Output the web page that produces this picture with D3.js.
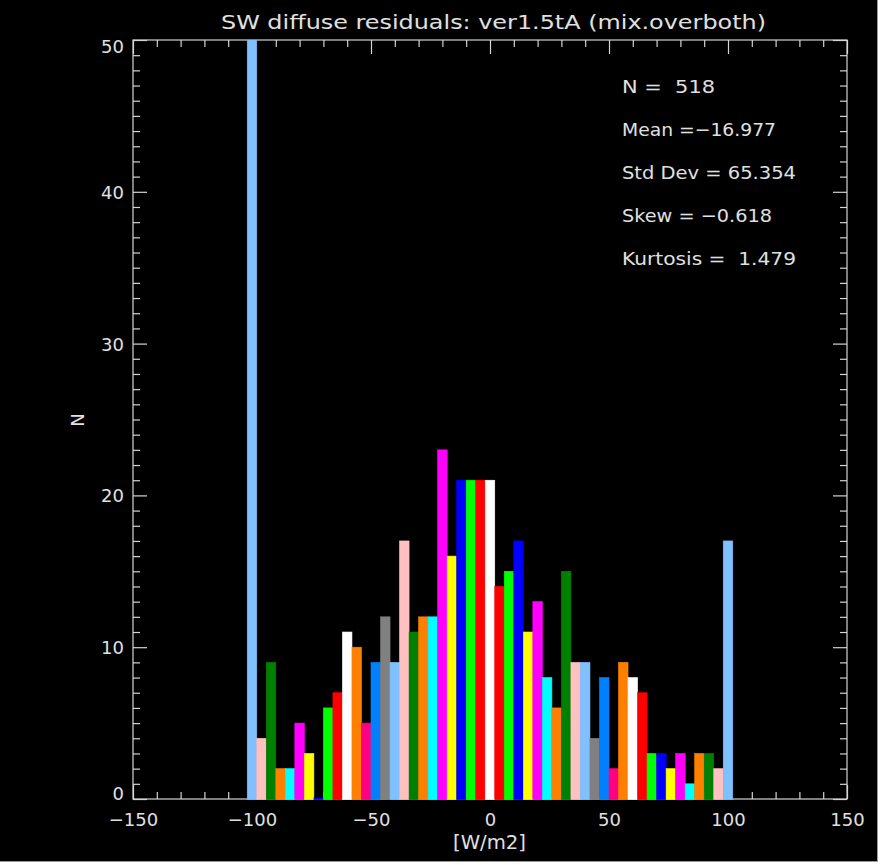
<!DOCTYPE html>
<html>
<head>
<meta charset="utf-8">
<script src="https://cdn.jsdelivr.net/npm/d3@7/dist/d3.min.js"></script>
<style>
  html, body { margin: 0; padding: 0; background: #ffffff; }
  svg { display: block; }
  text { font-family: "DejaVu Sans", "Liberation Sans", sans-serif; fill: #e0e0e0; white-space: pre; }
</style>
</head>
<body>
<svg id="chart" width="881" height="865"></svg>
<script>
// Histogram bins: centre of each 4 W/m2 bin (outliers collected in the end bins)
const binCenters = [-100, -96, -92, -88, -84, -80, -76, -72, -68, -64,
                    -60, -56, -52, -48, -44, -40, -36, -32, -28, -24,
                    -20, -16, -12, -8, -4, 0, 4, 8, 12, 16,
                    20, 24, 28, 32, 36, 40, 44, 48, 52, 56,
                    60, 64, 68, 72, 76, 80, 84, 88, 92, 96, 100];
const counts = [57, 4, 9, 2, 2, 5, 3, 0, 6, 7,
                11, 10, 5, 9, 12, 9, 17, 11, 12, 12,
                23, 16, 21, 21, 21, 21, 14, 15, 17, 11,
                13, 8, 6, 15, 9, 9, 4, 8, 2, 9,
                8, 7, 3, 3, 2, 3, 1, 3, 3, 2, 17];
const binWidth = 4;

const xTicks = [-150, -100, -50, 0, 50, 100, 150];
const yTicks = [0, 10, 20, 30, 40, 50];
const statLines = ["N =  518", "Mean =\u221216.977", "Std Dev = 65.354", "Skew = \u22120.618", "Kurtosis =  1.479"];
const statWidths = [93, 154, 174, 150, 174];

const titleText = "SW diffuse residuals: ver1.5tA (mix.overboth)";
const xLabel = "[W/m2]";
const yLabel = "N";

// Colour table cycled from both ends of the histogram toward the middle
const palette = ["#80c0ff", "#ffc0c0", "#008000", "#ff8000", "#00ffff",
                 "#ff00ff", "#ffff00", "#0000ff", "#00ff00", "#ff0000",
                 "#ffffff", "#ff8000", "#ff0080", "#0080ff", "#808080"];

const svg = d3.select("#chart");
const axisColor = "#d4d4d4";

// window area
svg.append("rect").attr("x", 0).attr("y", 0).attr("width", 877).attr("height", 861).attr("fill", "#000");
svg.append("line").attr("x1", 877.5).attr("x2", 877.5).attr("y1", 0).attr("y2", 862).attr("stroke", "#9a9a9a");
svg.append("line").attr("x1", 0).attr("x2", 878).attr("y1", 861.5).attr("y2", 861.5).attr("stroke", "#9a9a9a");

const plot = { left: 133, right: 847, top: 40, bottom: 799 };
const x = d3.scaleLinear().domain([-150, 150]).range([plot.left, plot.right]);
const y = d3.scaleLinear().domain([0, 50]).range([plot.bottom, plot.top]);

const minorX = d3.range(-150, 151, 10).filter(v => v % 50 !== 0);
const minorY = d3.range(0, 51, 1).filter(v => v % 10 !== 0);

function styleAxis(g) {
  g.select(".domain").remove();
  g.selectAll(".tick line").attr("stroke", axisColor).attr("stroke-width", 1.2);
  g.selectAll("text").attr("fill", "#e0e0e0").style("font-size", "18px")
    .style("font-family", "'DejaVu Sans', 'Liberation Sans', sans-serif");
}

const axes = svg.append("g");
// bottom
axes.append("g").attr("transform", `translate(0,${plot.bottom})`)
  .call(d3.axisBottom(x).tickValues(xTicks).tickSize(-14).tickSizeOuter(0).tickPadding(14)
    .tickFormat(d => d < 0 ? "\u2212" + Math.abs(d) : String(d)))
  .call(styleAxis);
axes.append("g").attr("transform", `translate(0,${plot.bottom})`)
  .call(d3.axisBottom(x).tickValues(minorX).tickSize(-7).tickSizeOuter(0).tickFormat(""))
  .call(styleAxis);
// top
axes.append("g").attr("transform", `translate(0,${plot.top})`)
  .call(d3.axisTop(x).tickValues(xTicks).tickSize(-14).tickSizeOuter(0).tickFormat(""))
  .call(styleAxis);
axes.append("g").attr("transform", `translate(0,${plot.top})`)
  .call(d3.axisTop(x).tickValues(minorX).tickSize(-7).tickSizeOuter(0).tickFormat(""))
  .call(styleAxis);
// left
const leftAxis = axes.append("g").attr("transform", `translate(${plot.left},0)`)
  .call(d3.axisLeft(y).tickValues(yTicks).tickSize(-14).tickSizeOuter(0).tickPadding(9))
  .call(styleAxis);
leftAxis.selectAll("text").attr("dy", d => d === 0 ? "0.05em" : (d === 50 ? "0.72em" : "0.36em"));
axes.append("g").attr("transform", `translate(${plot.left},0)`)
  .call(d3.axisLeft(y).tickValues(minorY).tickSize(-7).tickSizeOuter(0).tickFormat(""))
  .call(styleAxis);
// right
axes.append("g").attr("transform", `translate(${plot.right},0)`)
  .call(d3.axisRight(y).tickValues(yTicks).tickSize(-14).tickSizeOuter(0).tickFormat(""))
  .call(styleAxis);
axes.append("g").attr("transform", `translate(${plot.right},0)`)
  .call(d3.axisRight(y).tickValues(minorY).tickSize(-7).tickSizeOuter(0).tickFormat(""))
  .call(styleAxis);

// frame
axes.append("rect")
  .attr("x", plot.left).attr("y", plot.top)
  .attr("width", plot.right - plot.left).attr("height", plot.bottom - plot.top)
  .attr("fill", "none").attr("stroke", axisColor).attr("stroke-width", 1.2);

// bars, clipped to the plot window
svg.append("clipPath").attr("id", "plotClip")
  .append("rect").attr("x", plot.left).attr("y", plot.top)
  .attr("width", plot.right - plot.left).attr("height", plot.bottom - plot.top + 1);

const n = counts.length;
const barColor = d => palette[Math.min(d.i, n - 1 - d.i) % palette.length];
svg.append("g").attr("clip-path", "url(#plotClip)")
  .selectAll("rect")
  .data(binCenters.map((c, i) => ({ c, v: counts[i], i })))
  .join("rect")
  .attr("x", d => x(d.c - binWidth / 2))
  .attr("width", d => x(d.c + binWidth / 2) - x(d.c - binWidth / 2))
  .attr("y", d => y(d.v) - (d.v === 0 ? 1 : 0))
  .attr("height", d => y(0) - y(d.v) + (d.v === 0 ? 1.5 : 0.5))
  .attr("fill", barColor)
  .attr("stroke", barColor)
  .attr("stroke-width", 0.6);

// title
svg.append("text")
  .attr("x", 221).attr("y", 29)
  .attr("textLength", 545).attr("lengthAdjust", "spacingAndGlyphs")
  .style("font-size", "20px")
  .text(titleText);

// axis titles
svg.append("text")
  .attr("x", 453).attr("y", 849)
  .attr("textLength", 73).attr("lengthAdjust", "spacingAndGlyphs")
  .style("font-size", "20px")
  .text(xLabel);

svg.append("text")
  .attr("transform", "translate(84,420) rotate(-90)")
  .attr("text-anchor", "middle")
  .style("font-size", "18px")
  .text(yLabel);

// summary statistics
svg.append("g").selectAll("text")
  .data(statLines)
  .join("text")
  .attr("x", 622)
  .attr("y", (d, i) => 92.7 + i * 43.1)
  .attr("textLength", (d, i) => statWidths[i])
  .attr("lengthAdjust", "spacingAndGlyphs")
  .style("font-size", "18px")
  .text(d => d);
</script>
</body>
</html>
